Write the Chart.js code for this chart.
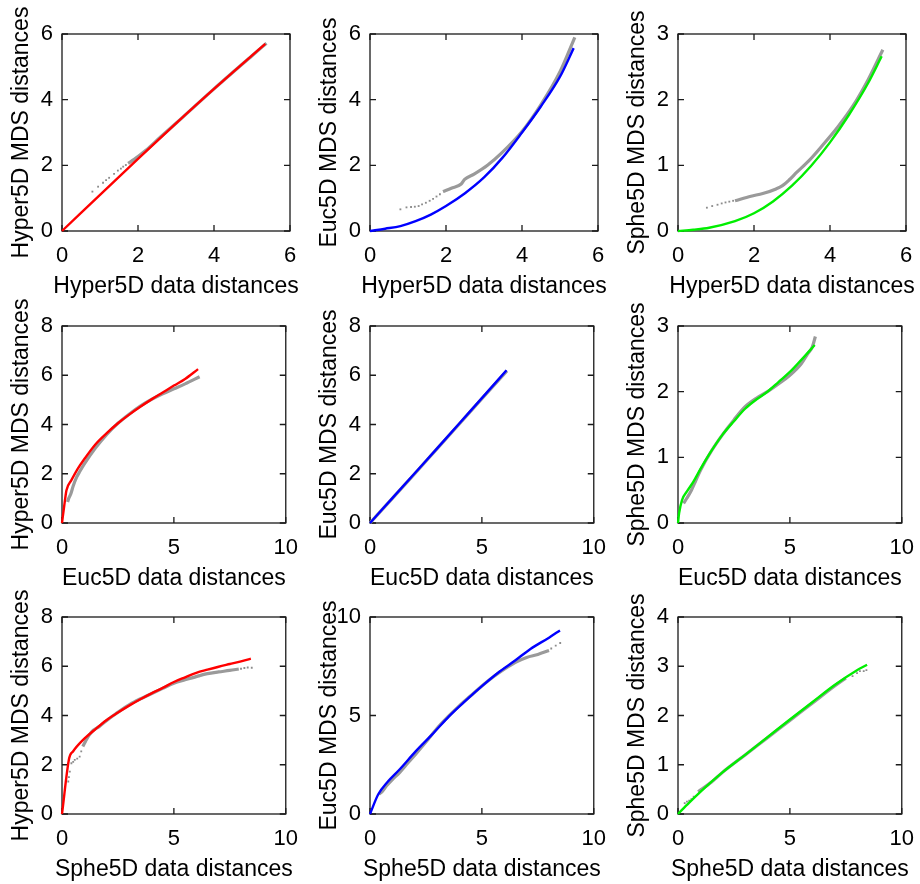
<!DOCTYPE html>
<html><head><meta charset="utf-8">
<script src="https://cdn.jsdelivr.net/npm/chart.js@4/dist/chart.umd.min.js"></script>
<style>
html,body{margin:0;padding:0;background:#fff;overflow:hidden;width:920px;height:884px;}
canvas.cell{position:absolute;}
</style></head><body>
<script>
// ---- axis texts & ticks ----
const xTitles = ['Hyper5D data distances', 'Euc5D data distances', 'Sphe5D data distances'];
const yTitles = ['Hyper5D MDS distances', 'Euc5D MDS distances', 'Sphe5D MDS distances'];
const xMaxByRow = [6, 10, 10];
const xStepByRow = [2, 5, 5];
const yMaxGrid = [[6, 6, 3], [8, 8, 3], [8, 10, 4]];
const yStepGrid = [[2, 2, 1], [2, 2, 1], [2, 5, 1]];
const fitColors = ['#ff0000', '#0000ff', '#00ee00'];

// ---- Row 1: Hyper5D data distances ----
const hypHypFit = [[0,0],[1,1.1],[2,2.2],[3,3.28],[4,4.33],[5.35,5.70]];
const hypHypGray = [[1.74,2.06],[1.9,2.18],[2.2,2.45],[2.6,2.87],[3,3.28],[4,4.33],[5,5.34],[5.38,5.72]];
const hypHypDots = [[0.8,1.2],[0.95,1.35],[1.08,1.47],[1.16,1.55],[1.24,1.62],[1.37,1.74],[1.47,1.84],[1.55,1.9],[1.61,1.96],[1.68,2.01]];

const hypEucFit = [[0,0],[0.4,0.07],[0.8,0.15],[1.2,0.3],[1.6,0.5],[2,0.76],[2.5,1.15],[3,1.63],[3.5,2.25],[4,3.0],[4.5,3.8],[5,4.7],[5.36,5.57]];
const hypEucGray = [[1.92,1.2],[2.14,1.3],[2.4,1.43],[2.49,1.57],[2.75,1.74],[3.1,2.01],[3.46,2.37],[4,3.03],[4.5,3.85],[5,4.85],[5.39,5.90]];
const hypEucDots = [[0.8,0.66],[0.96,0.72],[1.08,0.73],[1.18,0.74],[1.28,0.76],[1.37,0.81],[1.47,0.86],[1.57,0.92],[1.66,0.98],[1.75,1.05],[1.84,1.12]];

const hypSphFit = [[0,0],[0.4,0.02],[0.82,0.05],[1.5,0.15],[2,0.27],[2.5,0.45],[3,0.69],[3.5,0.99],[4,1.35],[4.5,1.77],[5,2.25],[5.36,2.66]];
const hypSphGray = [[1.5,0.46],[1.92,0.53],[2.23,0.57],[2.58,0.64],[2.75,0.69],[2.93,0.78],[3.1,0.88],[3.46,1.08],[3.81,1.31],[4.2,1.58],[4.6,1.9],[5,2.3],[5.39,2.76]];
const hypSphDots = [[0.76,0.355],[0.9,0.38],[1.04,0.40],[1.15,0.42],[1.25,0.435],[1.35,0.447],[1.45,0.46]];

// ---- Row 2: Euc5D data distances ----
const eucHypFit = [[0,0],[0.1,0.7],[0.2,1.33],[0.42,1.74],[0.7,2.2],[1,2.6],[1.5,3.2],[2,3.65],[2.5,4.05],[3,4.4],[3.5,4.72],[4,5.02],[4.5,5.3],[5,5.58],[5.5,5.85],[6.08,6.25]];
const eucHypGray = [[0.25,0.85],[0.3,1.0],[0.4,1.2],[0.5,1.5],[0.65,1.85],[0.8,2.1],[1,2.4],[1.5,3.05],[2,3.6],[2.5,4.05],[3,4.42],[3.5,4.75],[4,5.02],[4.5,5.25],[5,5.45],[5.5,5.65],[6.15,5.94]];
const eucHypDots = [];

const eucEucFit = [[0,0],[1,1.01],[2,2.02],[3,3.03],[4,4.05],[5,5.07],[6.1,6.2]];
const eucEucGray = [[0,0],[1,1.0],[2,2.0],[3,3.02],[4,4.03],[5,5.05],[6.12,6.18]];
const eucEucDots = [];

const eucSphFit = [[0,0],[0.05,0.15],[0.18,0.35],[0.4,0.48],[0.69,0.63],[1,0.82],[1.42,1.06],[2,1.35],[2.5,1.55],[3,1.74],[3.5,1.88],[4,2.0],[4.5,2.15],[5,2.3],[5.5,2.48],[6.11,2.71]];
const eucSphGray = [[0.25,0.3],[0.4,0.38],[0.6,0.5],[0.8,0.65],[1,0.8],[1.5,1.1],[2,1.35],[2.5,1.57],[3,1.77],[3.5,1.9],[4,2.0],[4.5,2.12],[5,2.25],[5.5,2.42],[5.8,2.58],[6.0,2.68],[6.14,2.84]];
const eucSphDots = [];

// ---- Row 3: Sphe5D data distances ----
const sphHypFit = [[0,0],[0.32,2.26],[0.5,2.55],[0.93,3.0],[1.5,3.45],[2,3.82],[2.5,4.12],[3,4.4],[3.5,4.66],[4,4.9],[4.5,5.12],[5,5.36],[5.5,5.55],[6,5.73],[6.5,5.86],[7,5.98],[7.5,6.09],[8,6.2],[8.44,6.31]];
const sphHypGray = [[0.93,2.74],[1.05,2.95],[1.22,3.21],[1.4,3.4],[1.66,3.55],[2,3.8],[2.39,4.06],[3.12,4.5],[3.85,4.82],[4.5,5.1],[5,5.31],[5.5,5.45],[6.03,5.59],[6.5,5.7],[7,5.77],[7.49,5.83],[7.9,5.89]];
const sphHypDots = [[0.28,1.32],[0.31,1.5],[0.35,1.72],[0.42,2.06],[0.5,2.12],[0.57,2.2],[0.68,2.25],[0.79,2.33],[0.86,2.54],[8.0,5.9],[8.15,5.93],[8.3,5.95],[8.48,5.94]];

const sphEucFit = [[0,0],[0.37,1.0],[0.8,1.65],[1.32,2.26],[2.05,3.19],[2.78,4.04],[3.54,4.97],[4.25,5.73],[5,6.49],[5.71,7.16],[6.5,7.8],[7.17,8.38],[8,8.95],[8.49,9.32]];
const sphEucGray = [[0.4,1.0],[0.55,1.15],[0.73,1.42],[1,1.75],[1.32,2.1],[1.7,2.6],[2.05,3.05],[2.5,3.65],[3,4.35],[3.5,4.95],[4,5.5],[4.5,6.0],[5,6.5],[5.5,6.95],[6,7.35],[6.5,7.7],[7,7.95],[7.5,8.1],[8,8.3]];
const sphEucDots = [[8.1,8.4],[8.3,8.55],[8.5,8.68]];

const sphSphFit = [[0,0],[0.5,0.23],[1,0.45],[2,0.85],[3,1.2],[4,1.56],[5,1.92],[6,2.27],[7,2.62],[8,2.92],[8.45,3.03]];
const sphSphGray = [[0.9,0.45],[1.5,0.65],[2,0.85],[3,1.2],[4,1.55],[5,1.9],[6,2.25],[7,2.6],[7.5,2.76]];
const sphSphDots = [[0.3,0.22],[0.4,0.25],[0.5,0.27],[0.6,0.3],[0.7,0.35],[7.8,2.8],[8.0,2.86],[8.13,2.9],[8.3,2.9],[8.42,2.92]];

const fitGrid = [[hypHypFit, hypEucFit, hypSphFit],[eucHypFit, eucEucFit, eucSphFit],[sphHypFit, sphEucFit, sphSphFit]];
const grayGrid = [[hypHypGray, hypEucGray, hypSphGray],[eucHypGray, eucEucGray, eucSphGray],[sphHypGray, sphEucGray, sphSphGray]];
const dotGrid = [[hypHypDots, hypEucDots, hypSphDots],[eucHypDots, eucEucDots, eucSphDots],[sphHypDots, sphEucDots, sphSphDots]];

// ---- layout ----
const plotLefts = [62, 370, 678];
const plotTops = [34, 326, 617];
const PW = 228, PH = 197, YAXW = 62, XAXH = 70, PADR = 20, PADT = 34;
const FONT = '"Liberation Sans", Arial, Helvetica, sans-serif';

const toPts = a => a.map(p => ({x: p[0], y: p[1]}));

const framePlugin = {
  id: 'frame',
  beforeDatasetsDraw(chart) {
    const {ctx, chartArea: {left, right, top, bottom}, scales: {x, y}} = chart;
    ctx.save();
    ctx.strokeStyle = '#1a1a1a';
    ctx.lineWidth = 1.3;
    ctx.strokeRect(left, top, right - left, bottom - top);
    const L = 6;
    ctx.beginPath();
    x.ticks.forEach(t => {
      const px = x.getPixelForValue(t.value);
      ctx.moveTo(px, bottom); ctx.lineTo(px, bottom - L);
      ctx.moveTo(px, top); ctx.lineTo(px, top + L);
    });
    y.ticks.forEach(t => {
      const py = y.getPixelForValue(t.value);
      ctx.moveTo(left, py); ctx.lineTo(left + L, py);
      ctx.moveTo(right, py); ctx.lineTo(right - L, py);
    });
    ctx.stroke();
    ctx.restore();
  }
};

// axis titles drawn without width compression
const titlePlugin = {
  id: 'axisTitles',
  afterDraw(chart, args, opts) {
    const {ctx, chartArea: {left, right, top, bottom}} = chart;
    ctx.save();
    ctx.fillStyle = '#000';
    ctx.font = '23px ' + FONT;
    ctx.textAlign = 'center';
    ctx.textBaseline = 'alphabetic';
    ctx.fillText(opts.x, (left + right) / 2, bottom + 62);
    ctx.translate(left - 34, (top + bottom) / 2);
    ctx.rotate(-Math.PI / 2);
    ctx.fillText(opts.y, 0, 0);
    ctx.restore();
  }
};

for (let r = 0; r < 3; r++) {
  for (let c = 0; c < 3; c++) {
    const cv = document.createElement('canvas');
    cv.className = 'cell';
    const W = YAXW + PW + PADR, H = PADT + PH + XAXH;
    cv.width = W; cv.height = H;
    cv.style.width = W + 'px'; cv.style.height = H + 'px';
    cv.style.left = (plotLefts[c] - YAXW) + 'px';
    cv.style.top = (plotTops[r] - PADT) + 'px';
    document.body.appendChild(cv);
    new Chart(cv, {
      type: 'scatter',
      data: {
        datasets: [
          { data: toPts(fitGrid[r][c]), showLine: true, borderColor: fitColors[c], borderWidth: 2.4,
            pointRadius: 0, cubicInterpolationMode: 'monotone', order: 0, clip: 4 },
          { data: toPts(grayGrid[r][c]), showLine: true, borderColor: '#9a9a9a', borderWidth: 3.2,
            pointRadius: 0, cubicInterpolationMode: 'monotone', order: 1, clip: 4 },
          { data: toPts(dotGrid[r][c]), showLine: false, pointStyle: 'rect', pointRadius: 1.3,
            backgroundColor: '#8c8c8c', borderWidth: 0, order: 2, clip: 4 }
        ]
      },
      options: {
        responsive: false, animation: false, devicePixelRatio: 1,
        layout: { padding: { top: PADT, right: PADR, bottom: 0, left: 0 } },
        plugins: { legend: { display: false }, tooltip: { enabled: false },
                   axisTitles: { x: xTitles[r], y: yTitles[c] } },
        scales: {
          x: {
            type: 'linear', position: 'bottom', min: 0, max: xMaxByRow[r],
            ticks: { stepSize: xStepByRow[r], color: '#000', padding: 12, maxRotation: 0,
                     font: { family: FONT, size: 22 } },
            grid: { display: false, drawTicks: false }, border: { display: false },
            title: { display: false },
            afterFit(s) { s.height = XAXH; }
          },
          y: {
            type: 'linear', position: 'left', min: 0, max: yMaxGrid[r][c],
            ticks: { stepSize: yStepGrid[r][c], color: '#000', padding: 9,
                     font: { family: FONT, size: 22 } },
            grid: { display: false, drawTicks: false }, border: { display: false },
            title: { display: false },
            afterFit(s) { s.width = YAXW; }
          }
        }
      },
      plugins: [framePlugin, titlePlugin]
    });
  }
}
</script>
</body></html>
